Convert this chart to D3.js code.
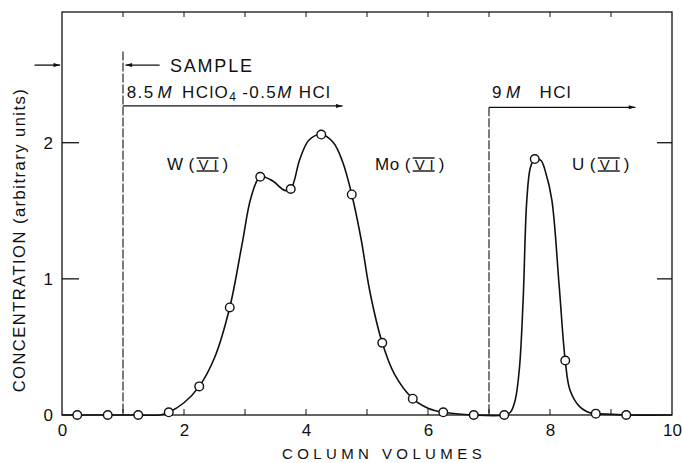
<!DOCTYPE html>
<html>
<head>
<meta charset="utf-8">
<script src="https://cdn.jsdelivr.net/npm/d3@7"></script>
<style>
  html, body { margin: 0; padding: 0; background: #fff; }
  svg { display: block; }
  text { font-family: "Liberation Sans", "DejaVu Sans", sans-serif; fill: #111; }
</style>
</head>
<body>
<svg id="chart" width="682" height="463"></svg>
<script>
// Measured points (circles): column volumes and concentration
const woMoX = [0.25, 0.75, 1.25, 1.75, 2.25, 2.75, 3.25, 3.75, 4.25, 4.75, 5.25, 5.75, 6.25, 6.75, 7.25];
const woMoY = [0, 0, 0, 0.02, 0.21, 0.79, 1.75, 1.66, 2.06, 1.62, 0.53, 0.12, 0.02, 0, 0];
const uX = [7.75, 8.25, 8.75, 9.25];
const uY = [1.88, 0.40, 0.01, 0];

// Hand-drawn elution curve traced through and between the measured points
const curveX = [0, 0.25, 0.75, 1.25, 1.6, 1.75, 2.0, 2.25, 2.5, 2.75, 2.95, 3.1, 3.25, 3.45, 3.65, 3.75, 3.9, 4.05, 4.25, 4.45, 4.6, 4.75, 4.9, 5.05, 5.25, 5.45, 5.75, 6.0, 6.25, 6.75, 7.25, 7.35, 7.43, 7.5, 7.56, 7.62, 7.68, 7.75, 7.85, 7.93, 8.03, 8.15, 8.25, 8.33, 8.49, 8.7, 8.75, 9.25, 10];
const curveY = [0, 0, 0, 0, 0, 0.02, 0.09, 0.21, 0.42, 0.79, 1.25, 1.6, 1.75, 1.72, 1.65, 1.66, 1.88, 2.02, 2.06, 2.0, 1.86, 1.62, 1.3, 0.9, 0.53, 0.3, 0.12, 0.05, 0.02, 0, 0, 0.02, 0.11, 0.35, 0.85, 1.58, 1.82, 1.88, 1.87, 1.78, 1.58, 0.95, 0.40, 0.18, 0.06, 0.01, 0.01, 0, 0];

const xTicks = [0, 2, 4, 6, 8, 10];
const yTicks = [0, 1, 2];
const minorX = [1, 2, 3, 4, 5, 6, 7, 8, 9];

const svg = d3.select("#chart");
const x = d3.scaleLinear().domain([0, 10]).range([62, 672]);
const y = d3.scaleLinear().domain([0, 2.96]).range([415, 12]);

const ink = "#111";

// Frame
svg.append("rect")
  .attr("x", x(0)).attr("y", y(2.96))
  .attr("width", x(10) - x(0)).attr("height", y(0) - y(2.96))
  .attr("fill", "none").attr("stroke", ink).attr("stroke-width", 1.3);

// Tick labels on the x axis
const xAxis = d3.axisBottom(x).tickValues(xTicks).tickSize(0).tickPadding(9).tickFormat(d3.format("d"));
const gx = svg.append("g").attr("transform", `translate(0,${y(0)})`).call(xAxis);
gx.select(".domain").remove();
gx.selectAll("text").attr("font-size", 17).attr("font-family", "Liberation Sans, sans-serif").attr("fill", ink);

// Tick labels on the y axis, with inward ticks on both sides
const yAxis = d3.axisLeft(y).tickValues(yTicks).tickSize(0).tickPadding(9).tickFormat(d3.format("d"));
const gy = svg.append("g").attr("transform", `translate(${x(0)},0)`).call(yAxis);
gy.select(".domain").remove();
gy.selectAll("text").attr("font-size", 17).attr("font-family", "Liberation Sans, sans-serif").attr("fill", ink);

[1, 2].forEach(v => {
  svg.append("line").attr("x1", x(0)).attr("x2", x(0) + 17).attr("y1", y(v)).attr("y2", y(v))
    .attr("stroke", ink).attr("stroke-width", 1.3);
  svg.append("line").attr("x1", x(10)).attr("x2", x(10) - 15).attr("y1", y(v)).attr("y2", y(v))
    .attr("stroke", ink).attr("stroke-width", 1.3);
});

// Small inward ticks along the top and bottom edges
minorX.forEach(v => {
  svg.append("line").attr("x1", x(v)).attr("x2", x(v)).attr("y1", y(2.96)).attr("y2", y(2.96) + 5)
    .attr("stroke", ink).attr("stroke-width", 1);
  svg.append("line").attr("x1", x(v)).attr("x2", x(v)).attr("y1", y(0)).attr("y2", y(0) - 6)
    .attr("stroke", ink).attr("stroke-width", 1);
});

// Axis titles
svg.append("text")
  .attr("x", 384).attr("y", 459).attr("text-anchor", "middle")
  .attr("font-size", 15).attr("letter-spacing", 4.4)
  .text("COLUMN VOLUMES");
svg.append("text")
  .attr("transform", `translate(25,240) rotate(-90)`)
  .attr("text-anchor", "middle").attr("font-size", 16.5).attr("letter-spacing", 1.5)
  .text("CONCENTRATION (arbitrary units)");

// Arrowhead marker
svg.append("defs").append("marker")
  .attr("id", "head").attr("viewBox", "0 0 10 6").attr("refX", 10).attr("refY", 3)
  .attr("markerWidth", 13).attr("markerHeight", 4).attr("markerUnits", "userSpaceOnUse")
  .attr("orient", "auto")
  .append("path").attr("d", "M0,0 L10,3 L0,6 Z").attr("fill", ink);

// Eluent change markers
const sampleY = 2.57;
const eluentY1 = 2.27;
const eluentY2 = 2.26;

svg.append("line").attr("x1", x(1)).attr("x2", x(1)).attr("y1", y(2.67)).attr("y2", y(0))
  .attr("stroke", ink).attr("stroke-width", 1.1).attr("stroke-dasharray", "9,2");
svg.append("line").attr("x1", x(-0.45)).attr("x2", x(-0.03)).attr("y1", y(sampleY)).attr("y2", y(sampleY))
  .attr("stroke", ink).attr("stroke-width", 1.3).attr("marker-end", "url(#head)");
svg.append("line").attr("x1", x(1.6)).attr("x2", x(1.04)).attr("y1", y(sampleY)).attr("y2", y(sampleY))
  .attr("stroke", ink).attr("stroke-width", 1.3).attr("marker-end", "url(#head)");
svg.append("text").attr("x", x(1.77)).attr("y", y(sampleY) + 7).attr("font-size", 18).attr("letter-spacing", 1.8)
  .text("SAMPLE");

svg.append("line").attr("x1", x(1)).attr("x2", x(4.6)).attr("y1", y(eluentY1)).attr("y2", y(eluentY1))
  .attr("stroke", ink).attr("stroke-width", 1.3).attr("marker-end", "url(#head)");
const t1 = svg.append("text").attr("x", x(1.06)).attr("y", y(eluentY1) - 8).attr("font-size", 17).attr("letter-spacing", 1.4);
t1.append("tspan").text("8.5");
t1.append("tspan").attr("font-style", "italic").attr("dx", 3).text("M");
t1.append("tspan").attr("dx", 9).text("HClO");
t1.append("tspan").attr("font-size", 12).attr("dy", 3).text("4");
t1.append("tspan").attr("dy", -3).attr("dx", 5).text("-0.5");
t1.append("tspan").attr("font-style", "italic").text("M");
t1.append("tspan").attr("dx", 6).text("HCl");

svg.append("line").attr("x1", x(7)).attr("x2", x(7)).attr("y1", y(eluentY2)).attr("y2", y(0))
  .attr("stroke", ink).attr("stroke-width", 1.1).attr("stroke-dasharray", "9,2");
svg.append("line").attr("x1", x(7)).attr("x2", x(9.4)).attr("y1", y(eluentY2)).attr("y2", y(eluentY2))
  .attr("stroke", ink).attr("stroke-width", 1.3).attr("marker-end", "url(#head)");
const t2 = svg.append("text").attr("x", x(7.05)).attr("y", y(eluentY1) - 8).attr("font-size", 17).attr("letter-spacing", 1.4);
t2.append("tspan").text("9");
t2.append("tspan").attr("font-style", "italic").attr("dx", 3).text("M");
t2.append("tspan").attr("dx", 18).text("HCl");

// Element labels with barred Roman numeral
function elementLabel(px, py, sym) {
  const g = svg.append("g");
  const a = g.append("text").attr("x", px).attr("y", py).attr("font-size", 17).attr("letter-spacing", 0.5).text(sym);
  const w0 = a.node().getComputedTextLength();
  const p1 = px + w0 + 5;
  g.append("text").attr("x", p1).attr("y", py).attr("font-size", 17).text("(");
  const vx = p1 + 9;
  const vw = 21;
  g.append("text").attr("x", vx + 1).attr("y", py).attr("font-size", 15)
    .attr("textLength", vw - 2).attr("lengthAdjust", "spacing").text("VI");
  g.append("text").attr("x", vx + vw + 4).attr("y", py).attr("font-size", 17).text(")");
  [py - 12, py + 1].forEach(ly => {
    g.append("line").attr("x1", vx - 1).attr("x2", vx + vw)
      .attr("y1", ly).attr("y2", ly).attr("stroke", ink).attr("stroke-width", 1.4);
  });
}
elementLabel(167, 170, "W");
elementLabel(375, 170, "Mo");
elementLabel(572, 170, "U");

// Elution curve
const pts = curveX.map((v, i) => [v, curveY[i]]);
svg.append("path")
  .datum(pts)
  .attr("d", d3.line().x(d => x(d[0])).y(d => y(d[1])).curve(d3.curveCatmullRom.alpha(0.5)))
  .attr("fill", "none").attr("stroke", ink).attr("stroke-width", 1.6);

// Measured points
const circ = woMoX.map((v, i) => [v, woMoY[i]]).concat(uX.map((v, i) => [v, uY[i]]));
svg.append("g").selectAll("circle").data(circ).join("circle")
  .attr("cx", d => x(d[0])).attr("cy", d => y(d[1])).attr("r", 4.3)
  .attr("fill", "#fff").attr("stroke", ink).attr("stroke-width", 1.4);
</script>
</body>
</html>
